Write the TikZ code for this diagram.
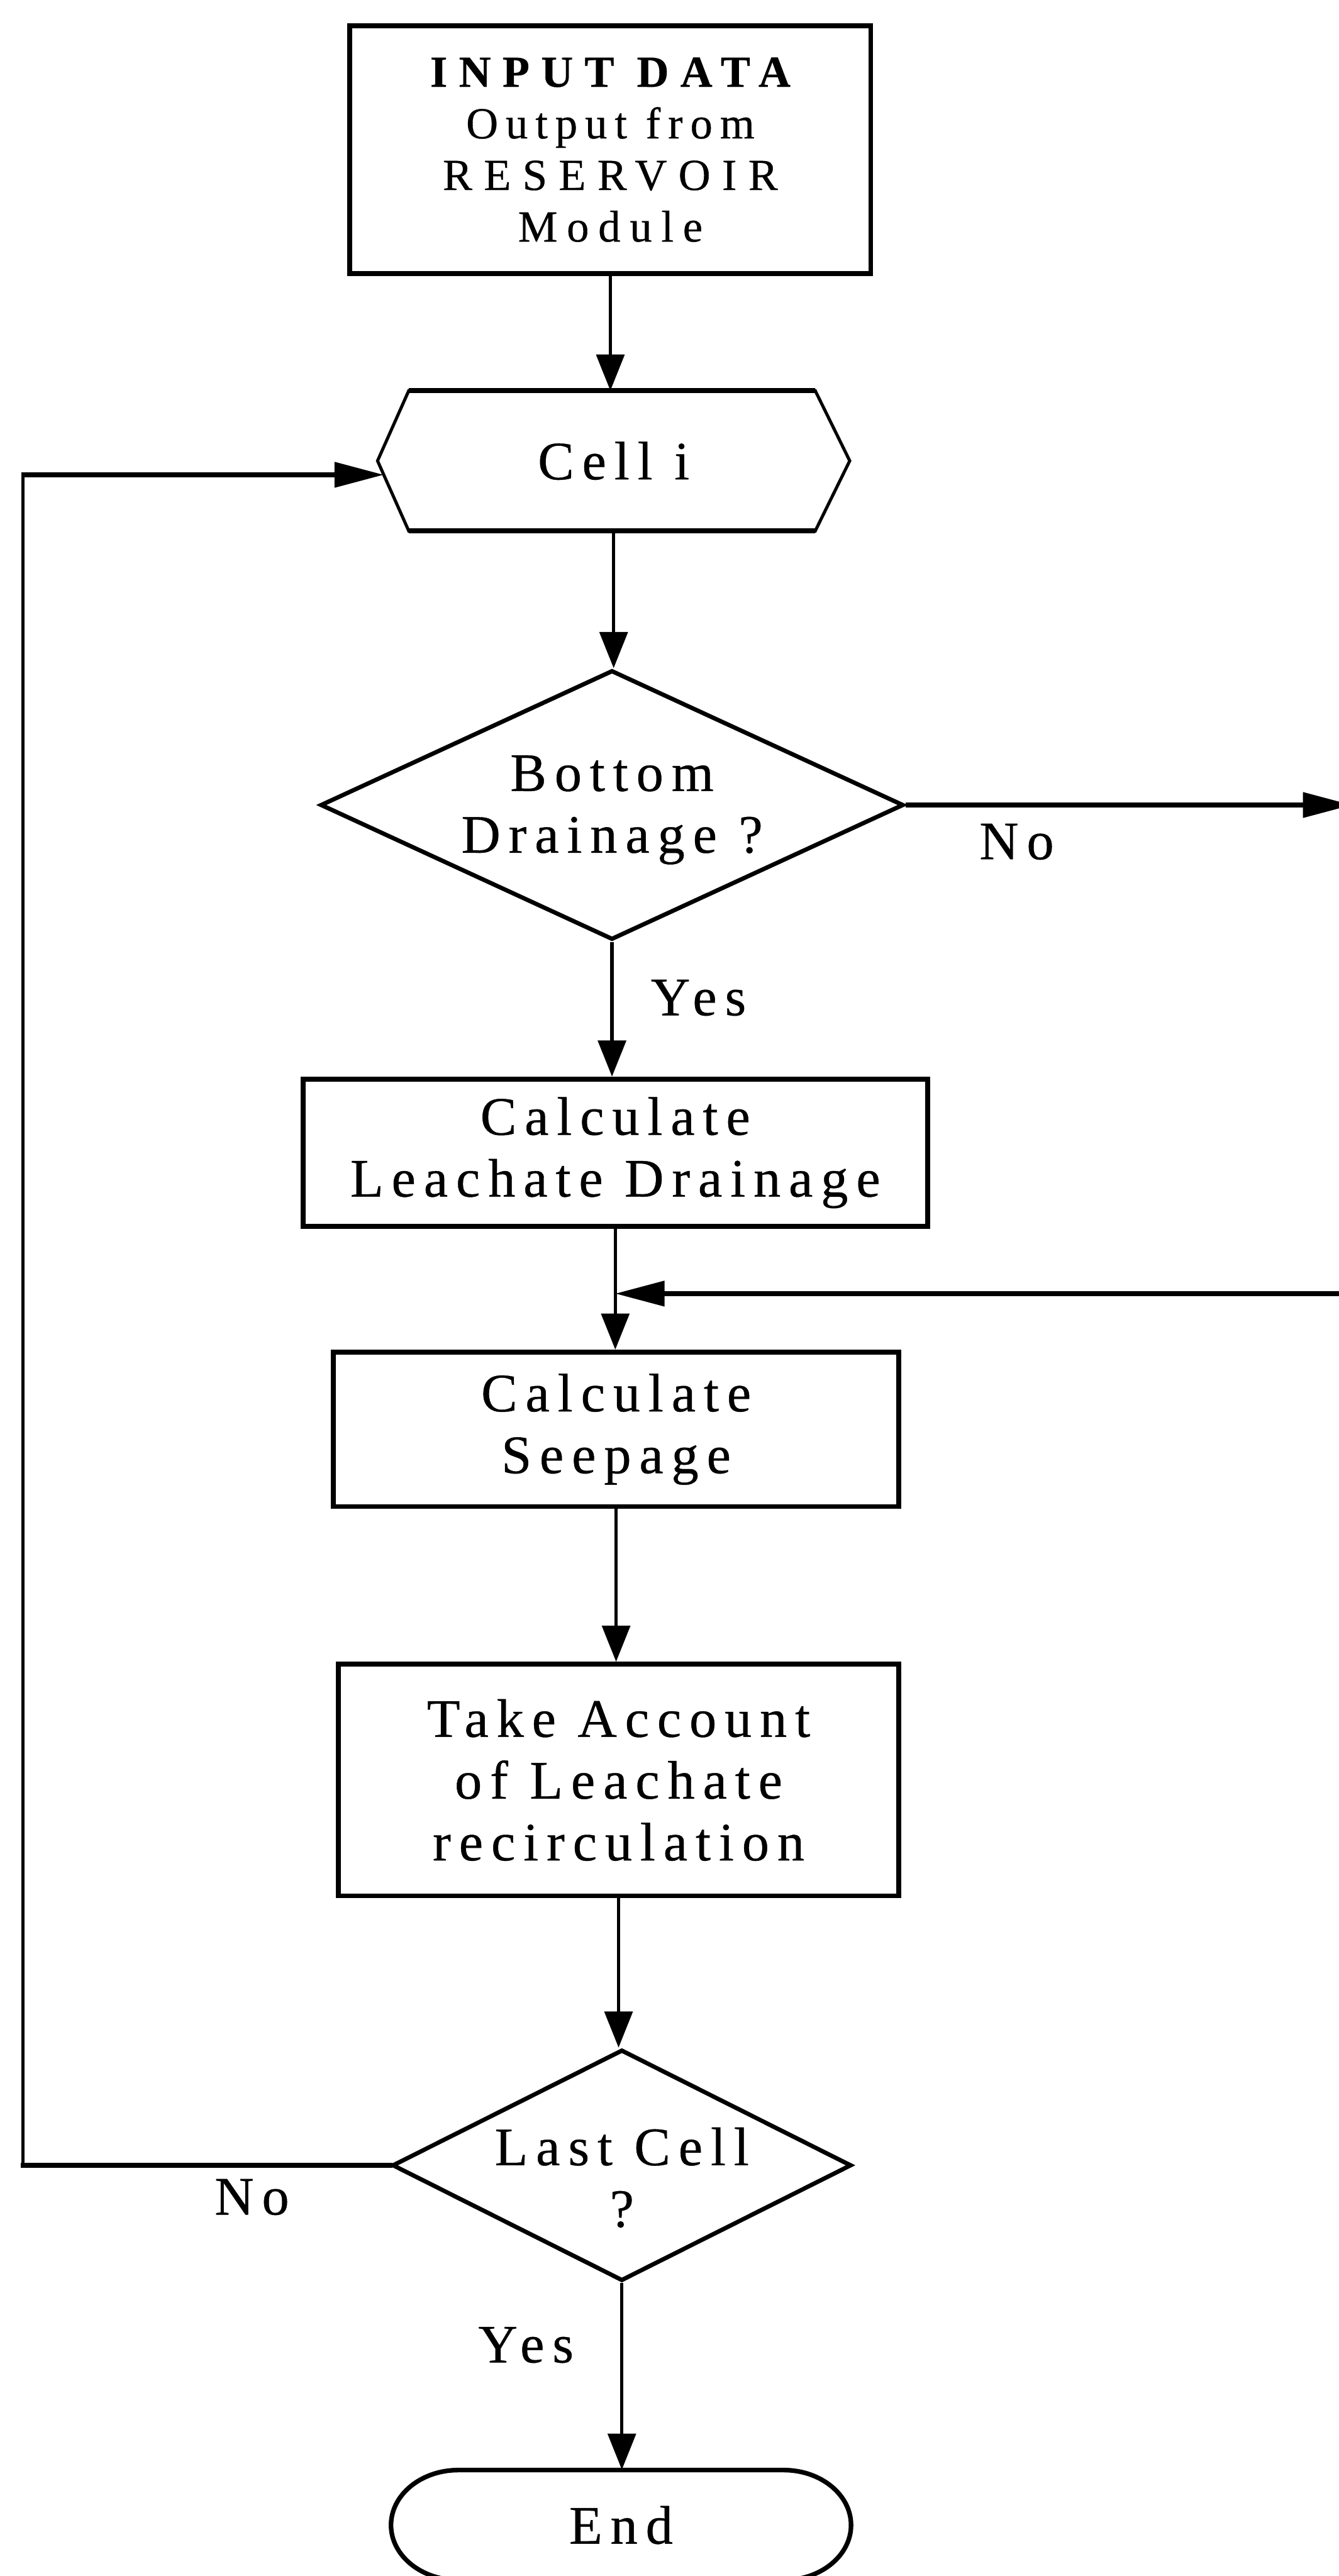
\documentclass[tikz,border=0pt]{standalone}
\usepackage{fontspec}
\setmainfont{Liberation Serif}[LetterSpace=15, FakeBold=0.5]
\usetikzlibrary{arrows.meta,shapes.geometric,calc}

\tikzset{
  txt/.style={font=\fontsize{33}{37.6}\selectfont, align=center, inner sep=0pt},
  smalltxt/.style={font=\fontsize{27}{31.4}\selectfont, align=center, inner sep=0pt},
  box/.style={draw, line width=3pt, inner sep=0pt, txt},
  decision/.style={diamond, draw, line width=2.6pt, inner sep=0pt},
  blank/.style={inner sep=0pt, txt},
  vline/.style={line width=2.1pt},
  hline/.style={line width=2.8pt},
  varrow/.style={vline, -{Triangle[length=22pt,width=17pt]}},
  harrow/.style={hline, -{Triangle[length=30pt,width=15pt]}},
  hexside/.style={line width=1.9pt, line join=miter},
  hexedge/.style={line width=3pt},
  endline/.style={line width=2.8pt},
  tag/.style={txt, anchor=base west}
}

\begin{document}
\begin{tikzpicture}[x=1pt, y=-1pt]
\useasboundingbox (0,0) rectangle (815,1568);
\clip (0,0) rectangle (815,1568);

% ---- nodes ----
\node[box, smalltxt, draw, line width=3pt, minimum width=317pt, minimum height=150.7pt] (input) at (371.5,91.15)
  {{\bfseries\addfontfeature{LetterSpace=26}INPUT DATA}\\
   {\addfontfeature{LetterSpace=17}Output from}\\
   {\addfontfeature{LetterSpace=26}RESERVOIR}\\
   {\addfontfeature{LetterSpace=21}Module}};

\node[blank, minimum width=287pt, minimum height=85pt] (cell) at (373.5,280.5) {Cell i};
\draw[hexside] (cell.west) -- ([xshift=19pt]cell.north west) -- ([xshift=-21pt]cell.north east)
  -- (cell.east) -- ([xshift=-21pt]cell.south east) -- ([xshift=19pt]cell.south west) -- cycle;
\draw[hexedge] ([xshift=19pt]cell.north west) -- ([xshift=-21pt]cell.north east)
  ([xshift=19pt]cell.south west) -- ([xshift=-21pt]cell.south east);

\node[decision, minimum width=355pt, minimum height=164pt,
  label={[txt, yshift=-3pt]center:Bottom\\Drainage ?}] (drain) at (372.5,490) {};

\node[box, minimum width=380pt, minimum height=89.7pt] (leach) at (374.5,701.65)
  {Calculate\\Leachate Drainage};

\node[box, minimum width=344pt, minimum height=94pt] (seep) at (375,870)
  {Calculate\\Seepage};

\node[box, minimum width=341pt, minimum height=141pt] (recirc) at (376.5,1083.5)
  {Take Account\\of Leachate\\recirculation};

\node[decision, minimum width=279.5pt, minimum height=140.7pt,
  label={[txt, yshift=-7.5pt]center:Last Cell\\?}] (last) at (378.5,1318) {};

\node[blank, minimum width=277pt, minimum height=67pt] (end) at (378,1537) {End};
\begin{scope}[shift={(end.center)}]
  \draw[endline] (-99,-33.5) -- (99,-33.5)
    .. controls (121.6,-33.5) and (140,-18.5) .. (140,0)
    .. controls (140,18.5) and (121.6,33.5) .. (99,33.5)
    -- (-99,33.5)
    .. controls (-121.6,33.5) and (-140,18.5) .. (-140,0)
    .. controls (-140,-18.5) and (-121.6,-33.5) .. cycle;
\end{scope}

% ---- branch labels ----
\node[tag] (no1) at (596,523) {No};
\node[tag] (yes1) at (396,618) {Yes};
\node[tag] (no2) at (130.5,1348) {No};
\node[tag] (yes2) at (291,1438) {Yes};

% ---- free ends and bends ----
\coordinate (drainout) at (823,490);
\coordinate (mergein) at (816,787.4);
\coordinate (loopbot) at (14,1318);
\coordinate (looptop) at (14,289);
\coordinate (cellin) at ($(cell.west)+(3.8,8.5)$);

% ---- connectors ----
\draw[varrow] (input.south) -- (input.south |- cell.north);
\draw[varrow] (cell.south) -- (cell.south |- drain.north);
\draw[harrow] (drain.east) -- (drainout);
\draw[varrow] (drain.south) -- (drain.south |- leach.north);
\draw[varrow] (leach.south) -- (leach.south |- seep.north);
\draw[harrow] (mergein) -- (leach.south |- mergein);
\draw[varrow] (seep.south) -- (seep.south |- recirc.north);
\draw[varrow] (recirc.south) -- (recirc.south |- last.north);
\draw[varrow] (last.south) -- (last.south |- end.north);

\draw[hline, line cap=rect] (last.west) -- (loopbot);
\draw[vline] (loopbot) -- (looptop);
\draw[harrow] ([xshift=-1.05pt]looptop) -- (cellin);

\end{tikzpicture}
\end{document}
